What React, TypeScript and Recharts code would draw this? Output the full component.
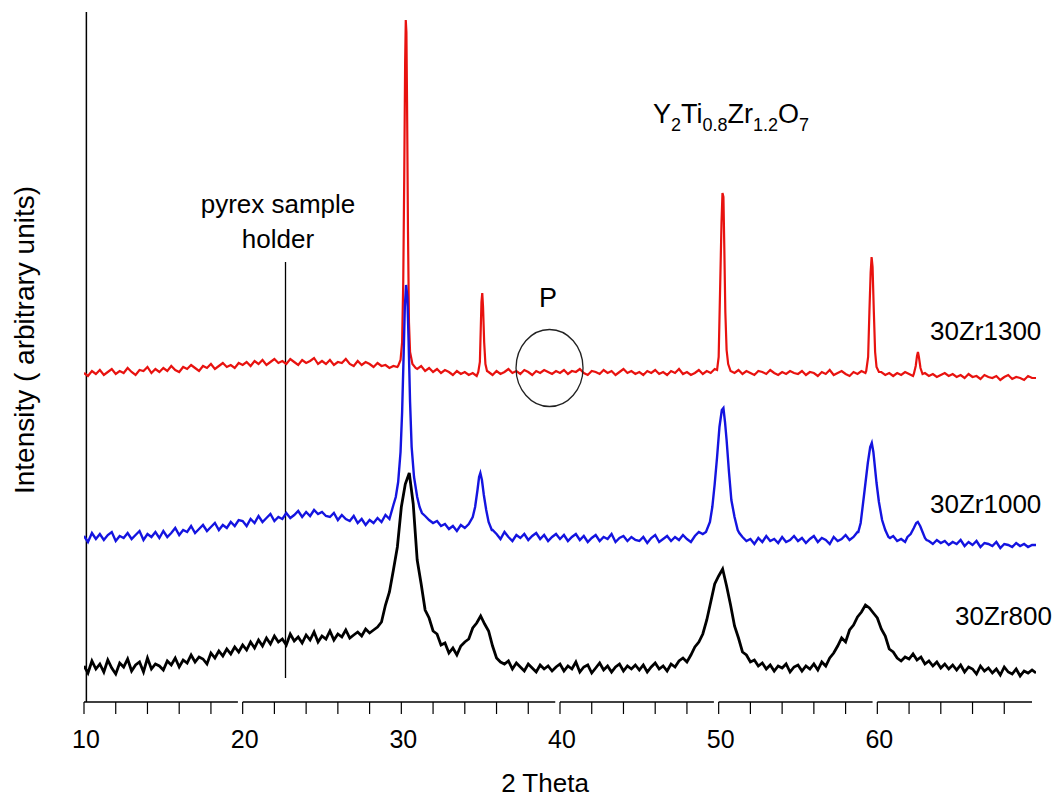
import React from 'react';
import { LineChart, Line, XAxis, YAxis, ReferenceLine, ReferenceDot } from 'recharts';

const FONT = '"Liberation Sans", Arial, Helvetica, sans-serif';

// x axis: 2 Theta, minor ticks every 2 degrees, labels every 10
const minorTicks = [10, 12, 14, 16, 18, 20, 22, 24, 26, 28, 30, 32, 34, 36, 38, 40, 42, 44, 46, 48, 50, 52, 54, 56, 58, 60, 62, 64, 66, 68];
const tickLabels = [10, 20, 30, 40, 50, 60];
const axisSegments: [number, number][] = [[10, 19.7], [20, 39.7], [40, 49.7], [50, 59.7], [60, 69.75]];

// Scans sampled every 0.25 degree from 10 to 70 (offset intensities, arbitrary units)
const red1300 = [
  329, 326, 331, 328, 332, 327, 330, 333, 328, 331, 329, 334, 330, 327, 332, 331, 335, 329, 333, 330,
  334, 331, 336, 332, 330, 335, 333, 337, 334, 331, 336, 334, 338, 333, 336, 339, 335, 337, 334, 339,
  337, 340, 336, 341, 338, 342, 337, 340, 343, 339, 341, 338, 343, 340, 337, 342, 339, 341, 344, 338,
  341, 338, 342, 337, 340, 339, 343, 338, 336, 341, 337, 340, 338, 335, 339, 336, 337, 334, 336, 335,
  350, 600, 640, 380, 333, 336, 331, 334, 330, 333, 329, 332, 330, 327, 331, 328, 330, 327, 329, 326,
  400, 380, 330, 327, 331, 328, 330, 333, 329, 331, 328, 332, 330, 327, 331, 329, 332, 330, 328, 331,
  329, 332, 328, 331, 330, 333, 329, 327, 331, 330, 328, 332, 329, 331, 327, 330, 333, 329, 331, 328,
  330, 327, 331, 329, 332, 328, 330, 327, 331, 329, 333, 328, 330, 327, 329, 332, 328, 331, 329, 333,
  345, 505, 352, 331, 329, 332, 328, 331, 329, 327, 331, 330, 328, 332, 329, 327, 330, 328, 331, 329,
  328, 331, 327, 330, 329, 326, 330, 328, 332, 327, 329, 331, 328, 326, 330, 328, 331, 329, 390, 420,
  332, 330, 327, 329, 326, 329, 327, 330, 328, 326, 340, 335, 329, 326, 328, 325, 327, 329, 326, 328,
  325, 327, 324, 328, 325, 326, 323, 327, 325, 324, 326, 322, 325, 327, 323, 325, 324, 322, 326, 324,
  324,
];
const redPeaks: [number, number][][] = [
  [[29.8, 336], [29.95, 342], [30.05, 360], [30.12, 420], [30.18, 520], [30.24, 640], [30.28, 682], [30.32, 670], [30.36, 600], [30.42, 470], [30.48, 380], [30.55, 350], [30.7, 338], [30.9, 334]],
  [[34.85, 330], [34.95, 340], [35.0, 370], [35.05, 400], [35.1, 409], [35.15, 395], [35.22, 360], [35.3, 338], [35.4, 331]],
  [[49.9, 332], [50.0, 345], [50.1, 420], [50.18, 480], [50.24, 509], [50.3, 505], [50.36, 450], [50.42, 390], [50.5, 352], [50.6, 338], [50.75, 331]],
  [[59.3, 331], [59.42, 345], [59.5, 390], [59.58, 430], [59.64, 445], [59.7, 435], [59.78, 390], [59.86, 350], [59.95, 335], [60.1, 330]],
  [[62.3, 328], [62.42, 336], [62.5, 346], [62.56, 350], [62.62, 345], [62.72, 334], [62.85, 328]],
];

const blue1000 = [
  166, 160, 169, 163, 168, 162, 167, 170, 161, 166, 164, 169, 163, 167, 171, 162, 168, 165, 170, 164,
  171, 165, 169, 174, 167, 172, 170, 176, 169, 173, 177, 171, 175, 179, 172, 177, 174, 180, 176, 182,
  181, 176, 183, 179, 186, 180, 184, 188, 181, 185, 183, 189, 184, 187, 191, 185, 190, 186, 192, 188,
  190, 186, 185, 189, 182, 187, 183, 181, 186, 179, 183, 177, 182, 179, 184, 180, 187, 183, 200, 215,
  270, 417, 340, 225, 200, 190, 186, 182, 179, 181, 176, 178, 173, 176, 171, 177, 174, 178, 190, 215,
  229, 205, 185, 172, 168, 163, 170, 165, 161, 167, 164, 168, 162, 166, 169, 163, 167, 161, 165, 168,
  163, 167, 161, 165, 168, 162, 166, 160, 164, 167, 161, 165, 163, 168, 160, 164, 166, 161, 165, 162,
  161, 165, 159, 164, 167, 160, 163, 166, 161, 165, 162, 167, 163, 160, 166, 170, 168, 180, 195, 245,
  280, 285, 262, 202, 172, 167, 165, 161, 163, 158, 164, 160, 166, 161, 163, 159, 165, 160, 162, 166,
  161, 164, 159, 163, 166, 160, 164, 162, 158, 165, 161, 163, 167, 162, 165, 170, 168, 179, 230, 255,
  219, 182, 165, 163, 166, 161, 163, 160, 165, 176, 180, 170, 163, 161, 158, 162, 159, 161, 157, 160,
  158, 162, 156, 160, 157, 161, 155, 159, 158, 156, 160, 154, 158, 157, 155, 159, 156, 158, 155, 157,
  157,
];
const bluePeaks: [number, number][][] = [
  [[29.5, 197], [29.65, 205], [29.8, 220], [29.95, 250], [30.05, 290], [30.15, 350], [30.22, 395], [30.3, 417], [30.38, 405], [30.46, 360], [30.55, 300], [30.65, 255], [30.8, 225], [31.0, 205], [31.15, 195], [31.3, 189]],
  [[34.5, 185], [34.65, 195], [34.8, 212], [34.9, 225], [34.98, 229], [35.08, 222], [35.2, 207], [35.35, 192], [35.5, 180], [35.7, 172]],
  [[49.2, 170], [49.45, 180], [49.6, 195], [49.75, 218], [49.9, 245], [50.05, 275], [50.2, 292], [50.3, 294], [50.4, 280], [50.5, 262], [50.65, 230], [50.8, 202], [51.0, 185], [51.2, 172], [51.3, 169]],
  [[58.8, 170], [58.95, 179], [59.2, 212], [59.4, 239], [59.55, 255], [59.65, 259], [59.75, 250], [59.95, 219], [60.1, 200], [60.3, 182], [60.5, 172], [60.7, 165], [60.8, 164]],
  [[61.9, 165], [62.1, 168], [62.3, 174], [62.45, 179], [62.55, 180], [62.7, 176], [62.85, 170], [63.0, 164], [63.1, 162]],
];

const black800 = [
  36, 29, 41, 33, 38, 30, 42, 34, 28, 39, 35, 43, 31, 37, 40, 30, 44, 33, 38, 36,
  32, 41, 37, 44, 35, 42, 39, 47, 40, 45, 43, 38, 49, 44, 51, 46, 53, 48, 55, 50,
  57, 52, 60, 54, 62, 56, 64, 58, 66, 60, 63, 57, 68, 61, 65, 59, 67, 62, 70, 60,
  66, 63, 71, 62, 68, 65, 72, 64, 67, 70, 66, 73, 69, 72, 75, 80, 97, 110, 132, 155,
  195, 218, 229, 198, 142, 118, 92, 84, 71, 68, 57, 59, 49, 54, 47, 56, 60, 63, 74, 79,
  86, 78, 71, 56, 44, 40, 38, 41, 33, 39, 35, 31, 38, 34, 30, 37, 33, 36, 31, 35,
  38, 31, 36, 33, 40, 30, 35, 37, 29, 34, 39, 32, 36, 30, 35, 38, 31, 36, 33, 37,
  32, 37, 30, 35, 39, 33, 36, 31, 38, 35, 41, 44, 40, 47, 55, 60, 68, 82, 100, 118,
  126, 133, 116, 97, 76, 64, 50, 47, 40, 42, 36, 39, 33, 37, 31, 36, 34, 38, 30, 35,
  37, 31, 36, 33, 38, 32, 40, 36, 44, 49, 56, 64, 60, 72, 77, 85, 90, 97, 94, 89,
  84, 73, 66, 53, 50, 44, 41, 45, 43, 48, 42, 45, 38, 41, 36, 40, 34, 38, 33, 37,
  32, 37, 30, 35, 33, 28, 36, 31, 34, 29, 33, 27, 35, 30, 28, 33, 26, 31, 29, 32,
  29,
];

type Pt = { x: number; v: number };
function buildSeries(base: number[], peaks: [number, number][][]): Pt[] {
  const pts: Pt[] = base.map((v, i) => ({ x: 10 + i * 0.25, v }));
  const kept = pts.filter(
    (p) => !peaks.some((pk) => p.x >= pk[0][0] - 1e-9 && p.x <= pk[pk.length - 1][0] + 1e-9)
  );
  const extra: Pt[] = [];
  peaks.forEach((pk) => pk.forEach(([x, v]) => extra.push({ x, v })));
  return [...kept, ...extra].sort((a, b) => a.x - b.x);
}

const redData = buildSeries(red1300, redPeaks);
const blueData = buildSeries(blue1000, bluePeaks);
const blackData = buildSeries(black800, []);

const W = 1060;
const H = 799;

const Tick = (props: any) => {
  const { x, y, payload } = props;
  const v = payload.value as number;
  return (
    <g>
      <line x1={x} y1={y} x2={x} y2={y + 12} stroke="#000" strokeWidth={1.2} />
      {tickLabels.includes(v) && (
        <text x={x + 2} y={y + 46} textAnchor="middle" fontSize={25} fontFamily={FONT} fill="#000">
          {v}
        </text>
      )}
    </g>
  );
};

const EllipseShape = (p: any) => (
  <ellipse cx={p.cx} cy={p.cy} rx={33.5} ry={38.5} fill="none" stroke="#222" strokeWidth={1.3} />
);

export default function App() {
  return (
    <div style={{ position: 'absolute', left: 0, top: 0, width: W, height: H, background: '#fff' }}>
      <LineChart width={W} height={H} margin={{ top: 12, right: 24, bottom: 37, left: 84 }}>
        <XAxis
          type="number"
          dataKey="x"
          domain={[10, 70]}
          allowDataOverflow
          ticks={minorTicks}
          interval={0}
          axisLine={false}
          tickLine={false}
          tickSize={0}
          tickMargin={0}
          height={60}
          tick={<Tick />}
        />
        <YAxis type="number" domain={[0, 690]} allowDataOverflow hide />
        {axisSegments.map(([a, b], i) => (
          <ReferenceLine
            key={i}
            segment={[{ x: a, y: 0 }, { x: b, y: 0 }]}
            stroke="#000"
            strokeWidth={1.3}
            ifOverflow="visible"
          />
        ))}
        <ReferenceLine segment={[{ x: 10.15, y: 0 }, { x: 10.15, y: 690 }]} stroke="#000" strokeWidth={1.5} ifOverflow="visible" />
        <ReferenceLine segment={[{ x: 22.7, y: 24 }, { x: 22.7, y: 440 }]} stroke="#000" strokeWidth={1.3} ifOverflow="visible" />
        <Line data={redData} dataKey="v" stroke="#e8120f" strokeWidth={2.2} dot={false} isAnimationActive={false} />
        <Line data={blueData} dataKey="v" stroke="#1414e0" strokeWidth={2.4} dot={false} isAnimationActive={false} />
        <Line data={blackData} dataKey="v" stroke="#000" strokeWidth={2.8} dot={false} isAnimationActive={false} />
        <ReferenceDot x={39.34} y={334} r={1} shape={<EllipseShape />} ifOverflow="visible" />
      </LineChart>
      <svg width={W} height={H} style={{ position: 'absolute', left: 0, top: 0, pointerEvents: 'none' }} fontFamily={FONT}>
        <text x={278} y={213} textAnchor="middle" fontSize={26} fill="#000">pyrex sample</text>
        <text x={278} y={248} textAnchor="middle" fontSize={26} fill="#000">holder</text>
        <text x={548} y={307} textAnchor="middle" fontSize={27} fill="#000">P</text>
        <text x={653} y={123} fontSize={27} fill="#000">
          Y<tspan fontSize={18} dy={8}>2</tspan>
          <tspan fontSize={27} dy={-8}>Ti</tspan>
          <tspan fontSize={18} dy={8}>0.8</tspan>
          <tspan fontSize={27} dy={-8}>Zr</tspan>
          <tspan fontSize={18} dy={8}>1.2</tspan>
          <tspan fontSize={27} dy={-8}>O</tspan>
          <tspan fontSize={18} dy={8}>7</tspan>
        </text>
        <text x={930} y={340} fontSize={26} fill="#000">30Zr1300</text>
        <text x={930} y={513} fontSize={26} fill="#000">30Zr1000</text>
        <text x={955} y={625} fontSize={26} fill="#000">30Zr800</text>
        <text x={545} y={792} textAnchor="middle" fontSize={26} fill="#000">2 Theta</text>
        <text
          x={24}
          y={340}
          textAnchor="middle"
          dominantBaseline="central"
          fontSize={28}
          fill="#000"
          transform="rotate(-90 24 340)"
        >
          Intensity ( arbitrary units)
        </text>
      </svg>
    </div>
  );
}
